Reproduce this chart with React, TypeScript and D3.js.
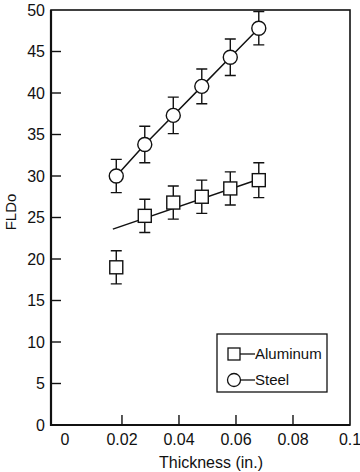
import React, { useEffect, useRef } from 'react';
import * as d3 from 'd3';

const thickness = [0.018, 0.028, 0.038, 0.048, 0.058, 0.068];
const steel = [30, 33.8, 37.3, 40.8, 44.3, 47.8];
const aluminum = [19, 25.2, 26.8, 27.5, 28.5, 29.5];
const errSteel = [2, 2.2, 2.2, 2.1, 2.2, 2];
const errAluminum = [2, 2, 2, 2, 2, 2.1];
const aluminumFit = [[0.0168, 23.6], [0.068, 29.6]];
const xTicks = [0, 0.02, 0.04, 0.06, 0.08, 0.1];
const yTicks = [0, 5, 10, 15, 20, 25, 30, 35, 40, 45, 50];

const App: React.FC = () => {
    const ref = useRef<SVGSVGElement>(null);

    useEffect(() => {
        if (!ref.current) return;
        const svg = d3.select(ref.current);
        svg.selectAll('*').remove();

        const font = '"Liberation Sans Narrow", "Liberation Sans", Arial, sans-serif';
        const left = 51, right = 350, top = 10, bottom = 425;

        const x = d3.scaleLinear().domain([-0.0049, 0.1]).range([left, right]);
        const y = d3.scaleLinear().domain([0, 50]).range([bottom, top]);

        // frame
        svg.append('rect')
            .attr('x', left).attr('y', top)
            .attr('width', right - left).attr('height', bottom - top)
            .attr('fill', 'none').attr('stroke', '#111').attr('stroke-width', 1.6);
        svg.append('path')
            .attr('d', `M${left},${top}V${bottom}H${right}`)
            .attr('fill', 'none').attr('stroke', '#111').attr('stroke-width', 2.2);

        // y ticks
        yTicks.forEach(t => {
            if (t > 0 && t < 50) {
                svg.append('line')
                    .attr('x1', left).attr('x2', left + 10)
                    .attr('y1', y(t)).attr('y2', y(t))
                    .attr('stroke', '#111').attr('stroke-width', 1.4);
            }
            svg.append('text')
                .attr('x', left - 6).attr('y', y(t))
                .attr('dy', '0.35em')
                .attr('text-anchor', 'end')
                .style('font-family', font).style('font-size', '16px')
                .attr('fill', '#111')
                .text(t);
        });

        // x ticks
        xTicks.forEach(t => {
            if (t > 0 && t < 0.1) {
                svg.append('line')
                    .attr('x1', x(t)).attr('x2', x(t))
                    .attr('y1', bottom).attr('y2', bottom - 10)
                    .attr('stroke', '#111').attr('stroke-width', 1.4);
            }
            svg.append('text')
                .attr('x', x(t)).attr('y', bottom + 20)
                .attr('text-anchor', 'middle')
                .style('font-family', font).style('font-size', '16px')
                .attr('fill', '#111')
                .text(String(t));
        });

        svg.append('text')
            .attr('x', 211).attr('y', 468)
            .attr('text-anchor', 'middle')
            .style('font-family', font).style('font-size', '16px')
            .attr('fill', '#111')
            .text('Thickness (in.)');

        svg.append('text')
            .attr('transform', `translate(16,212) rotate(-90)`)
            .attr('text-anchor', 'middle')
            .style('font-family', font).style('font-size', '15px')
            .attr('fill', '#111')
            .text('FLDo');

        const line = d3.line<number[]>().x(d => x(d[0])).y(d => y(d[1]));

        // steel line through points
        svg.append('path')
            .attr('d', line(thickness.map((t, i) => [t, steel[i]])))
            .attr('fill', 'none').attr('stroke', '#111').attr('stroke-width', 1.5);

        // aluminum fit line
        svg.append('path')
            .attr('d', line(aluminumFit))
            .attr('fill', 'none').attr('stroke', '#111').attr('stroke-width', 1.5);

        const errorBars = (vals: number[], errs: number[]) => {
            thickness.forEach((t, i) => {
                const cx = x(t);
                const y1 = y(vals[i] + errs[i]);
                const y2 = y(vals[i] - errs[i]);
                svg.append('path')
                    .attr('d', `M${cx},${y1}V${y2}M${cx - 5.5},${y1}H${cx + 5.5}M${cx - 5.5},${y2}H${cx + 5.5}`)
                    .attr('fill', 'none').attr('stroke', '#111').attr('stroke-width', 1.4);
            });
        };
        errorBars(steel, errSteel);
        errorBars(aluminum, errAluminum);

        const s = 13;
        thickness.forEach((t, i) => {
            svg.append('rect')
                .attr('x', x(t) - s / 2).attr('y', y(aluminum[i]) - s / 2)
                .attr('width', s).attr('height', s)
                .attr('fill', 'white').attr('stroke', '#111').attr('stroke-width', 1.4);
            svg.append('circle')
                .attr('cx', x(t)).attr('cy', y(steel[i]))
                .attr('r', 7)
                .attr('fill', 'white').attr('stroke', '#111').attr('stroke-width', 1.4);
        });

        // legend
        const lg = svg.append('g');
        lg.append('rect')
            .attr('x', 217).attr('y', 334).attr('width', 110).attr('height', 58)
            .attr('fill', 'white').attr('stroke', '#111').attr('stroke-width', 1.3);
        lg.append('rect')
            .attr('x', 228).attr('y', 348).attr('width', 12).attr('height', 12)
            .attr('fill', 'white').attr('stroke', '#111').attr('stroke-width', 1.3);
        lg.append('line')
            .attr('x1', 240).attr('x2', 255).attr('y1', 354).attr('y2', 354)
            .attr('stroke', '#111').attr('stroke-width', 1.3);
        lg.append('circle')
            .attr('cx', 234).attr('cy', 380).attr('r', 6.5)
            .attr('fill', 'white').attr('stroke', '#111').attr('stroke-width', 1.3);
        lg.append('line')
            .attr('x1', 240.5).attr('x2', 255).attr('y1', 380).attr('y2', 380)
            .attr('stroke', '#111').attr('stroke-width', 1.3);
        lg.append('text')
            .attr('x', 255).attr('y', 354).attr('dy', '0.35em')
            .style('font-family', font).style('font-size', '15px')
            .attr('fill', '#111').text('Aluminum');
        lg.append('text')
            .attr('x', 255).attr('y', 380).attr('dy', '0.35em')
            .style('font-family', font).style('font-size', '15px')
            .attr('fill', '#111').text('Steel');
    }, []);

    return (
        <svg ref={ref} width={360} height={472}
            style={{ position: 'absolute', left: 0, top: 0, background: 'white' }} />
    );
};

export default App;
